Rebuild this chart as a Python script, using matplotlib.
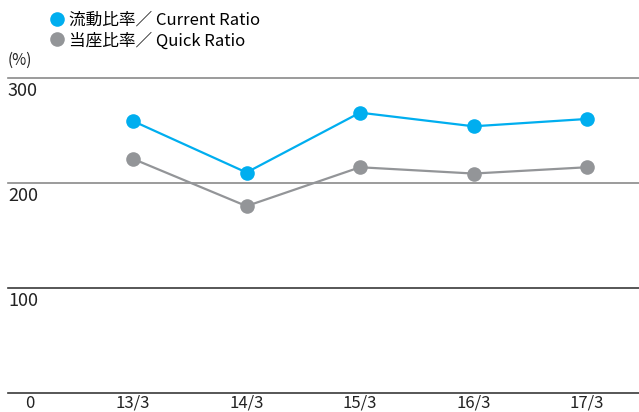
import matplotlib.pyplot as plt
from matplotlib.lines import Line2D

plt.rcParams['font.family'] = ['Noto Sans CJK JP', 'DejaVu Sans']

years = ['13/3', '14/3', '15/3', '16/3', '17/3']
current_ratio = [259, 210, 267, 254, 261]
quick_ratio = [223, 178, 215, 209, 215]
y_ticks = [0, 100, 200, 300]

blue = '#00aeef'
gray = '#939598'

fig = plt.figure(figsize=(6.39, 4.12), dpi=100)
W, H = 639, 412
# axes: x 8..639 px, y 0 at 393 px, 300 at 78 px
ax = fig.add_axes([8 / W, (H - 393) / H, 631 / W, (393 - 78) / H])

xs = list(range(len(years)))
ax.plot(xs, current_ratio, color=blue, lw=1.6, marker='o', ms=10.5,
        markeredgewidth=0, zorder=4)
ax.plot(xs, quick_ratio, color=gray, lw=1.6, marker='o', ms=10.5,
        markeredgewidth=0, zorder=3)

step = 113.5
ax.set_xlim(-(133 - 8) / step, 4 + (639 - 587) / step)
ax.set_ylim(0, 300)
ax.axis('off')

for v in y_ticks:
    c = '#8a8a8a' if v >= 200 else '#3a3a3a'
    ax.axhline(v, color=c, lw=1.2, zorder=1, clip_on=False)
    if v == 0:
        continue
    ax.annotate(str(v), xy=(0, v), xycoords=('axes fraction', 'data'),
                xytext=(0, -3), textcoords='offset points',
                ha='left', va='top', fontsize=13, color='#222222')

# bottom row: "0" and year labels
label_y = 1 - 403.5 / H
fig.text(30 / W, label_y, '0', ha='center', va='center', fontsize=12,
         color='#222222')
for x, lab in zip(xs, years):
    ax.annotate(lab, xy=(x, label_y), xycoords=('data', 'figure fraction'),
                ha='center', va='center', fontsize=12, color='#222222')

fig.text(8 / W, 1 - 60 / H, '(%)', ha='left', va='center', fontsize=11,
         color='#222222')

handles = [
    Line2D([], [], color=blue, marker='o', ls='none', ms=10.5, markeredgewidth=0),
    Line2D([], [], color=gray, marker='o', ls='none', ms=10.5, markeredgewidth=0),
]
labels = ['流動比率／ Current Ratio', '当座比率／ Quick Ratio']
fig.legend(handles, labels, loc='upper left', bbox_to_anchor=(39 / W, 1),
           frameon=False, fontsize=12, handlelength=0.8, handletextpad=0.3,
           labelspacing=0.2, borderpad=0.2)

fig.savefig('out.png', dpi=100)
